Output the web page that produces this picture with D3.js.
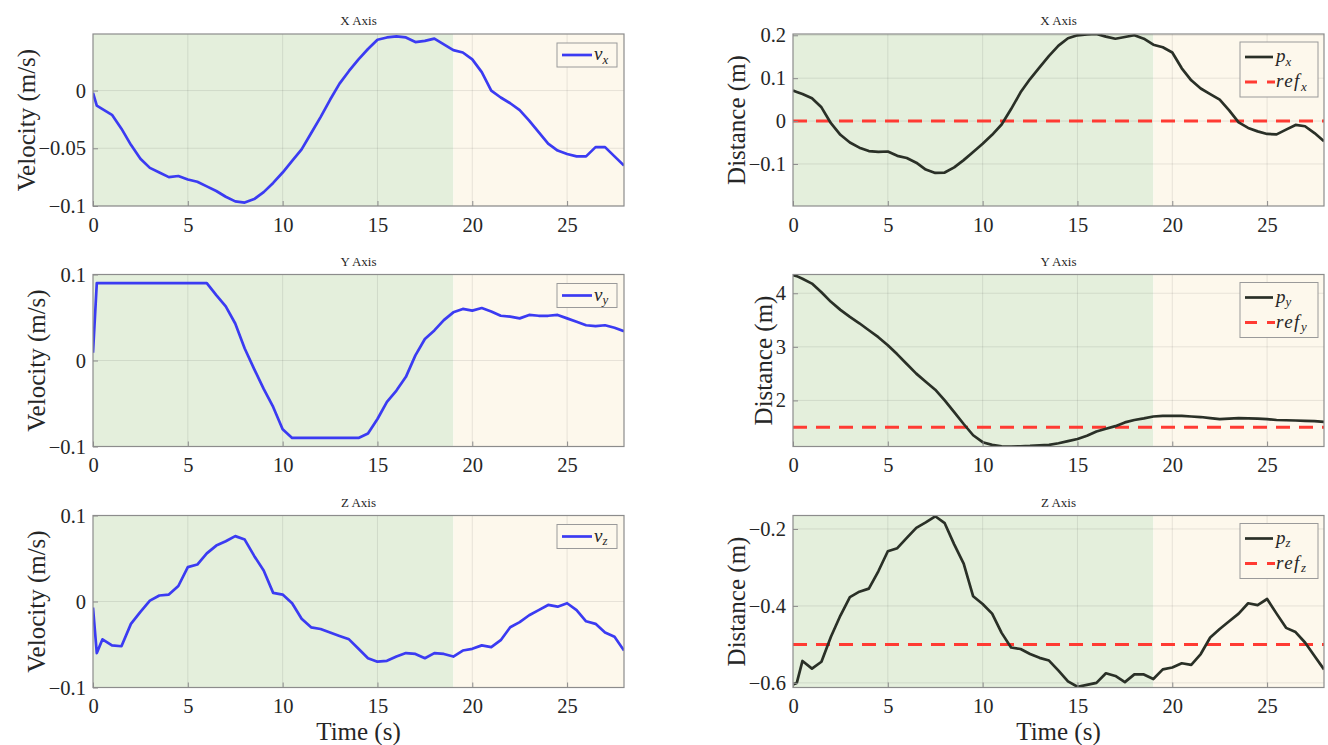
<!DOCTYPE html>
<html>
<head>
<meta charset="utf-8">
<script src="https://cdn.jsdelivr.net/npm/d3@7"></script>
<style>
  body { margin: 0; background: #fff; }
  svg text { font-family: "Liberation Serif", "Times New Roman", "DejaVu Serif", serif; fill: #262626; }
</style>
</head>
<body>
<svg id="chart"></svg>
<script>
// ─── DATA ─────────────────────────────────────────────────────────────────────

const time = [0, 0.2, 0.5, 1, 1.5, 2, 2.5, 3, 3.5, 4, 4.5, 5, 5.5, 6, 6.5, 7, 7.5, 8, 8.5, 9, 9.5,
  10, 10.5, 11, 11.5, 12, 12.5, 13, 13.5, 14, 14.5, 15, 15.5, 16, 16.5, 17, 17.5, 18, 18.5, 19, 19.5,
  20, 20.5, 21, 21.5, 22, 22.5, 23, 23.5, 24, 24.5, 25, 25.5, 26, 26.5, 27, 27.5, 28];

const vx = [-0.002, -0.013, -0.016, -0.021, -0.033, -0.047, -0.059, -0.067, -0.071, -0.075, -0.074,
  -0.077, -0.079, -0.083, -0.087, -0.092, -0.096, -0.097, -0.094, -0.088, -0.08, -0.071, -0.061,
  -0.051, -0.037, -0.023, -0.008, 0.006, 0.017, 0.027, 0.036, 0.044, 0.046, 0.047, 0.046, 0.042,
  0.043, 0.045, 0.04, 0.035, 0.033, 0.027, 0.016, 0.0, -0.006, -0.011, -0.017, -0.026, -0.036,
  -0.046, -0.052, -0.055, -0.057, -0.057, -0.049, -0.049, -0.057, -0.065];

const vy = [0.009, 0.09, 0.09, 0.09, 0.09, 0.09, 0.09, 0.09, 0.09, 0.09, 0.09, 0.09, 0.09, 0.09,
  0.076, 0.063, 0.043, 0.014, -0.01, -0.033, -0.054, -0.08, -0.09, -0.09, -0.09, -0.09, -0.09,
  -0.09, -0.09, -0.09, -0.085, -0.068, -0.048, -0.035, -0.019, 0.006, 0.025, 0.035, 0.047, 0.056,
  0.06, 0.058, 0.061, 0.057, 0.052, 0.051, 0.049, 0.053, 0.052, 0.052, 0.053, 0.049, 0.045, 0.041,
  0.04, 0.041, 0.038, 0.034];

const vz = [-0.007, -0.06, -0.044, -0.051, -0.052, -0.026, -0.012, 0.001, 0.007, 0.008, 0.018, 0.04,
  0.043, 0.056, 0.065, 0.07, 0.076, 0.072, 0.053, 0.036, 0.01, 0.008, -0.002, -0.02, -0.03, -0.032,
  -0.036, -0.04, -0.044, -0.055, -0.066, -0.07, -0.069, -0.064, -0.06, -0.061, -0.066, -0.06,
  -0.061, -0.064, -0.057, -0.055, -0.051, -0.053, -0.045, -0.03, -0.024, -0.016, -0.01, -0.004,
  -0.006, -0.002, -0.01, -0.023, -0.026, -0.036, -0.041, -0.057];

const px = [0.071, 0.068, 0.063, 0.053, 0.032, -0.005, -0.032, -0.05, -0.062, -0.07, -0.072, -0.071,
  -0.081, -0.086, -0.097, -0.113, -0.121, -0.12, -0.108, -0.091, -0.072, -0.053, -0.032, -0.008,
  0.028, 0.067, 0.098, 0.125, 0.152, 0.176, 0.193, 0.2, 0.202, 0.203, 0.197, 0.192, 0.196, 0.2,
  0.192, 0.178, 0.172, 0.16, 0.123, 0.095, 0.076, 0.063, 0.05, 0.025, -0.003, -0.016, -0.024,
  -0.03, -0.031, -0.02, -0.009, -0.012, -0.028, -0.047];

const py = [4.34, 4.32, 4.27, 4.18, 4.02, 3.84, 3.69, 3.56, 3.44, 3.31, 3.18, 3.03, 2.86, 2.68, 2.5,
  2.35, 2.2, 2.0, 1.78, 1.56, 1.35, 1.22, 1.17, 1.145, 1.14, 1.145, 1.15, 1.16, 1.17, 1.2, 1.24,
  1.28, 1.34, 1.42, 1.47, 1.52, 1.59, 1.635, 1.665, 1.7, 1.71, 1.71, 1.71, 1.7, 1.69, 1.67, 1.65,
  1.66, 1.67, 1.665, 1.66, 1.65, 1.635, 1.63, 1.625, 1.62, 1.615, 1.6];

const pz = [-0.604, -0.6, -0.543, -0.563, -0.545, -0.48, -0.425, -0.377, -0.363, -0.355, -0.31,
  -0.258, -0.25, -0.223, -0.197, -0.183, -0.167, -0.185, -0.24, -0.29, -0.375, -0.395, -0.42,
  -0.47, -0.508, -0.512, -0.525, -0.535, -0.542, -0.568, -0.596, -0.61, -0.605, -0.6, -0.575,
  -0.582, -0.598, -0.578, -0.578, -0.59, -0.565, -0.56, -0.549, -0.553, -0.525, -0.482, -0.46,
  -0.44, -0.42, -0.393, -0.398, -0.382, -0.42, -0.457, -0.468, -0.495, -0.53, -0.565];

const refs = { x: 0, y: 1.5, z: -0.5 };       // reference positions
const phaseSplit = 19;                          // end of first (green) phase, s
const tEnd = 28;
const xTicks = [0, 5, 10, 15, 20, 25];

// ─── LAYOUT ───────────────────────────────────────────────────────────────────

const width = 1328,
  height = 745,
  colX = [93, 793],
  rowY = [34, 274.5, 515.5],
  plotW = 531,
  plotH = 172;

const serif = "'Liberation Serif', 'Times New Roman', 'DejaVu Serif', serif";

const blue = "#3b3bf2",
  dark = "#2a3027",
  red = "#ff3b33",
  green = "#e4efdc",
  cream = "#fdf8ec";

const panels = [
  { col: 0, row: 0, title: "X Axis", values: vx, domain: [-0.1, 0.049], ticks: [-0.1, -0.05, 0], sym: "v", axis: "x" },
  { col: 0, row: 1, title: "Y Axis", values: vy, domain: [-0.1, 0.1], ticks: [-0.1, 0, 0.1], sym: "v", axis: "y" },
  { col: 0, row: 2, title: "Z Axis", values: vz, domain: [-0.1, 0.1], ticks: [-0.1, 0, 0.1], sym: "v", axis: "z" },
  { col: 1, row: 0, title: "X Axis", values: px, domain: [-0.198, 0.203], ticks: [-0.1, 0, 0.1, 0.2], sym: "p", axis: "x" },
  { col: 1, row: 1, title: "Y Axis", values: py, domain: [1.14, 4.35], ticks: [2, 3, 4], sym: "p", axis: "y" },
  { col: 1, row: 2, title: "Z Axis", values: pz, domain: [-0.612, -0.165], ticks: [-0.6, -0.4, -0.2], sym: "p", axis: "z" },
];

const svg = d3.select("#chart").attr("width", width).attr("height", height);

const fmt = (d) => (d === 0 ? "0" : String(d).replace("-", "\u2212"));

// italic symbol with subscript, e.g. v_x or ref_x
function mathText(sel, main, sub) {
  sel.append("tspan").attr("font-style", "italic").text(main);
  sel.append("tspan").attr("font-style", "italic").attr("font-size", "0.68em").attr("dy", "0.3em").text(sub);
}

// ─── DRAW PANELS ──────────────────────────────────────────────────────────────

panels.forEach((p, i) => {
  const g = svg.append("g").attr("transform", `translate(${colX[p.col]},${rowY[p.row]})`);
  const x = d3.scaleLinear().domain([0, tEnd]).range([0, plotW]);
  const y = d3.scaleLinear().domain(p.domain).range([plotH, 0]);

  g.append("clipPath").attr("id", "clip" + i)
    .append("rect").attr("width", plotW).attr("height", plotH);

  // phase backgrounds
  g.append("rect").attr("x", x(0)).attr("width", x(phaseSplit) - x(0)).attr("height", plotH).attr("fill", green);
  g.append("rect").attr("x", x(phaseSplit)).attr("width", x(tEnd) - x(phaseSplit)).attr("height", plotH).attr("fill", cream);

  // grid
  g.append("g").selectAll("line").data(xTicks.slice(1)).join("line")
    .attr("x1", (d) => x(d)).attr("x2", (d) => x(d)).attr("y1", 0).attr("y2", plotH)
    .attr("stroke", "#262626").attr("stroke-opacity", 0.1);
  g.append("g").selectAll("line").data(p.ticks).join("line")
    .attr("x1", 0).attr("x2", plotW).attr("y1", (d) => y(d)).attr("y2", (d) => y(d))
    .attr("stroke", "#262626").attr("stroke-opacity", 0.1);

  const line = d3.line().x((d, j) => x(time[j])).y((d) => y(d));
  const plot = g.append("g").attr("clip-path", `url(#clip${i})`);

  if (p.sym === "p") {
    plot.append("path")
      .attr("d", line(time.map(() => refs[p.axis])))
      .attr("fill", "none").attr("stroke", red).attr("stroke-width", 3)
      .attr("stroke-dasharray", "14,9");
  }
  plot.append("path")
    .attr("d", line(p.values))
    .attr("fill", "none")
    .attr("stroke", p.sym === "v" ? blue : dark)
    .attr("stroke-width", 2.7)
    .attr("stroke-linejoin", "round");

  // axes
  const ax = g.append("g").attr("transform", `translate(0,${plotH})`)
    .call(d3.axisBottom(x).tickValues(xTicks).tickSize(-5).tickPadding(11).tickFormat(fmt));
  const ay = g.append("g")
    .call(d3.axisLeft(y).tickValues(p.ticks).tickSize(-5).tickPadding(7).tickFormat(fmt));
  [ax, ay].forEach((a) => {
    a.attr("font-family", null).attr("font-size", null);
    a.select(".domain").remove();
    a.selectAll("line").attr("stroke", "#8c8c8c");
    a.selectAll("text").style("font-family", serif).style("font-size", "20.5px").attr("fill", "#262626");
  });

  // frame
  g.append("rect").attr("width", plotW).attr("height", plotH)
    .attr("fill", "none").attr("stroke", "#8c8c8c").attr("stroke-width", 1.2);

  // title
  g.append("text").attr("x", plotW / 2).attr("y", -9)
    .attr("text-anchor", "middle").attr("font-size", 13).text(p.title);

  // y label, placed just left of this panel's tick labels (as MATLAB does)
  let tickLeft = 0;
  ay.selectAll("text").each(function () {
    tickLeft = Math.min(tickLeft, this.getBBox().x - 7);
  });
  g.append("text")
    .attr("transform", `translate(${tickLeft - 5},${plotH / 2}) rotate(-90)`)
    .attr("text-anchor", "middle").attr("dominant-baseline", "central")
    .style("font-size", "25px")
    .text(p.sym === "v" ? "Velocity (m/s)" : "Distance (m)");

  // legend
  const lg = g.append("g");
  if (p.sym === "v") {
    const bw = 60, bh = 24, bx = plotW - 7 - bw, by = 9;
    lg.append("rect").attr("x", bx).attr("y", by).attr("width", bw).attr("height", bh)
      .attr("fill", cream).attr("stroke", "#9a9a9a").attr("stroke-width", 1);
    lg.append("line").attr("x1", bx + 5).attr("x2", bx + 35).attr("y1", by + 12).attr("y2", by + 12)
      .attr("stroke", blue).attr("stroke-width", 2.7);
    lg.append("text").attr("x", bx + 37).attr("y", by + 17).attr("font-size", 19)
      .call(mathText, "v", p.axis);
  } else {
    const bw = 78, bh = 55, bx = plotW - 6 - bw, by = 8;
    lg.append("rect").attr("x", bx).attr("y", by).attr("width", bw).attr("height", bh)
      .attr("fill", cream).attr("stroke", "#9a9a9a").attr("stroke-width", 1);
    lg.append("line").attr("x1", bx + 5).attr("x2", bx + 33).attr("y1", by + 15).attr("y2", by + 15)
      .attr("stroke", dark).attr("stroke-width", 2.7);
    lg.append("line").attr("x1", bx + 5).attr("x2", bx + 35).attr("y1", by + 40).attr("y2", by + 40)
      .attr("stroke", red).attr("stroke-width", 3).attr("stroke-dasharray", "12,10");
    lg.append("text").attr("x", bx + 36).attr("y", by + 20).attr("font-size", 19)
      .call(mathText, "p", p.axis);
    lg.append("text").attr("x", bx + 36).attr("y", by + 45).attr("font-size", 19)
      .attr("letter-spacing", 1.5)
      .call(mathText, "ref", p.axis);
  }

  // time label under bottom row
  if (p.row === 2) {
    g.append("text").attr("x", plotW / 2).attr("y", plotH + 52)
      .attr("text-anchor", "middle").style("font-size", "25px").text("Time (s)");
  }
});
</script>
</body>
</html>
